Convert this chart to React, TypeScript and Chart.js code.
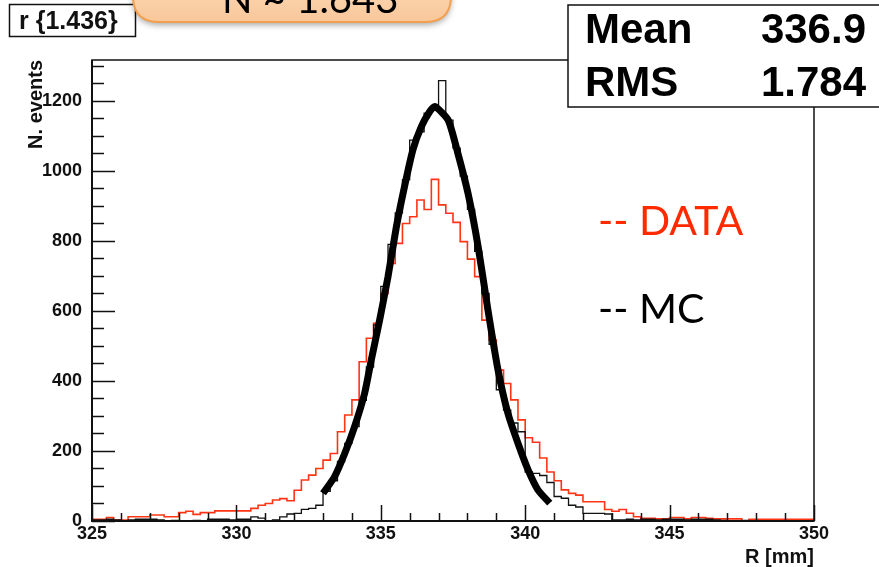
import React, { useEffect, useRef } from "react";
import { Chart, registerables } from "chart.js";
Chart.register(...registerables);

// Binning of the histograms (R in mm)
const BIN_LOW = 325;
const BIN_WIDTH = 0.25;

// DATA histogram (red), 100 bins from 325 to 350 mm
const dataCounts = [
  5, 5, 10, 3, 3, 12, 12, 12, 17, 17,
  12, 12, 24, 28, 19, 24, 24, 29, 29, 29,
  29, 29, 36, 45, 50, 60, 64, 58, 88, 117,
  131, 150, 174, 193, 255, 303, 346, 455, 522, 565,
  650, 736, 793, 850, 869, 917, 890, 976, 903, 879,
  853, 798, 748, 698, 574, 517, 431, 393, 346, 289,
  238, 225, 180, 140, 115, 89, 79, 74, 55, 55,
  55, 33, 28, 33, 22, 12, 8, 8, 6, 6,
  10, 10, 6, 10, 10, 8, 6, 6, 6, 6,
  0, 5, 5, 5, 5, 5, 5, 5, 5, 5,
];

// MC histogram (thin black), 100 bins
const mcCounts = [
  3, 3, 5, 3, 0, 3, 5, 5, 5, 3,
  0, 2, 0, 0, 2, 0, 5, 5, 5, 3,
  5, 5, 12, 8, 0, 3, 12, 20, 22, 33,
  36, 45, 85, 115, 170, 222, 270, 345, 440, 560,
  670, 790, 880, 975, 1088, 1112, 1165, 1184, 1258, 1145,
  1065, 985, 890, 770, 650, 505, 375, 317, 280, 255,
  140, 136, 130, 110, 70, 65, 45, 40, 22, 22,
  22, 20, 3, 3, 5, 3, 5, 5, 3, 5,
  5, 5, 3, 5, 5, 5, 3, 2, 0, 0,
  2, 0, 0, 0, 0, 0, 0, 0, 0, 0,
];

// Fitted curve (thick black), read point by point
const fitR = [333.0, 333.4, 333.75, 334.09, 334.44, 334.67, 334.96, 335.25, 335.54, 335.82, 336.11, 336.4, 336.69, 336.87, 337.33, 337.67, 338.02, 338.37, 338.71, 339.06, 339.4, 339.75, 340.1, 340.44, 340.85];
const fitN = [79, 127, 193, 269, 365, 460, 574, 698, 841, 955, 1060, 1126, 1169, 1184, 1146, 1050, 936, 784, 603, 431, 308, 222, 146, 89, 51];

const xTickValues = [325, 330, 335, 340, 345, 350];
const yTickValues = [0, 200, 400, 600, 800, 1000, 1200];
const X_MIN = 325, X_MAX = 350, Y_MAX = 1317;

const histTitle = "r {1.436}";
const statLabels = ["Mean", "RMS"];
const statValues = ["336.9", "1.784"];
const legendLabels = ["-- DATA", "-- MC"];
const legendColors = ["#ff2a00", "#000000"];
const bubbleText = "N ~ 1.643";
const xTitle = "R [mm]";
const yTitle = "N. events";

// Points at the low edge of each bin; last point closes the final bin
function toSteps(counts: number[]) {
  const pts = counts.map((c, i) => ({ x: BIN_LOW + i * BIN_WIDTH, y: c }));
  pts.push({ x: BIN_LOW + counts.length * BIN_WIDTH, y: counts[counts.length - 1] });
  return pts;
}

const SANS = "'Liberation Sans', Arial, Helvetica, sans-serif";

const decorations = {
  id: "rootDecorations",
  afterDraw(chart: any) {
    const ctx = chart.ctx as CanvasRenderingContext2D;
    const { left, right, top, bottom } = chart.chartArea;
    const xs = chart.scales.x;
    const ys = chart.scales.y;
    ctx.save();

    // frame
    ctx.strokeStyle = "#111";
    ctx.lineWidth = 1.5;
    ctx.strokeRect(left, top, right - left, bottom - top);
    ctx.lineWidth = 2;
    ctx.beginPath();
    ctx.moveTo(left, top);
    ctx.lineTo(left, bottom);
    ctx.lineTo(right, bottom);
    ctx.stroke();

    // inward ticks
    ctx.lineWidth = 1.5;
    ctx.beginPath();
    for (let v = X_MIN; v <= X_MAX; v += 1) {
      const px = Math.round(xs.getPixelForValue(v)) + 0.5;
      const len = v % 5 === 0 ? 16 : 8;
      ctx.moveTo(px, bottom);
      ctx.lineTo(px, bottom - len);
    }
    for (let v = 0; v <= Y_MAX; v += 50) {
      const py = Math.round(ys.getPixelForValue(v)) + 0.5;
      const len = v % 200 === 0 ? 23 : 12;
      ctx.moveTo(left, py);
      ctx.lineTo(left + len, py);
    }
    ctx.stroke();

    // axis titles
    ctx.fillStyle = "#111";
    ctx.font = `bold 20px ${SANS}`;
    ctx.textAlign = "right";
    ctx.textBaseline = "alphabetic";
    ctx.fillText(xTitle, right, 563);
    ctx.save();
    ctx.translate(42, top);
    ctx.rotate(-Math.PI / 2);
    ctx.font = `bold 20px ${SANS}`;
    ctx.textAlign = "right";
    ctx.fillText(yTitle, 0, 0);
    ctx.restore();

    // stats box
    ctx.fillStyle = "#fff";
    ctx.fillRect(568, 5, 330, 102);
    ctx.strokeStyle = "#111";
    ctx.lineWidth = 1.5;
    ctx.strokeRect(568, 5, 330, 102);
    ctx.fillStyle = "#000";
    ctx.font = `bold 42px ${SANS}`;
    ctx.textAlign = "left";
    ctx.fillText(statLabels[0], 585, 43);
    ctx.fillText(statLabels[1], 585, 96);
    ctx.textAlign = "right";
    ctx.fillText(statValues[0], 866, 43);
    ctx.fillText(statValues[1], 866, 96);

    // title box
    ctx.fillStyle = "#fff";
    ctx.fillRect(9, 4, 126, 33);
    ctx.strokeStyle = "#111";
    ctx.lineWidth = 1.5;
    ctx.strokeRect(9.5, 4.5, 126, 32);
    ctx.fillStyle = "#111";
    ctx.font = `bold 25px ${SANS}`;
    ctx.textAlign = "left";
    ctx.fillText(histTitle, 19, 29);

    // orange bubble
    ctx.save();
    ctx.shadowColor = "rgba(0,0,0,0.35)";
    ctx.shadowBlur = 6;
    ctx.shadowOffsetY = 3;
    const bx = 133, by = -45, bw = 318, bh = 67, r = 26;
    ctx.beginPath();
    ctx.moveTo(bx + r, by);
    ctx.lineTo(bx + bw - r, by);
    ctx.quadraticCurveTo(bx + bw, by, bx + bw, by + r);
    ctx.lineTo(bx + bw, by + bh - r);
    ctx.quadraticCurveTo(bx + bw, by + bh, bx + bw - r, by + bh);
    ctx.lineTo(bx + r, by + bh);
    ctx.quadraticCurveTo(bx, by + bh, bx, by + bh - r);
    ctx.lineTo(bx, by + r);
    ctx.quadraticCurveTo(bx, by, bx + r, by);
    ctx.closePath();
    const grad = ctx.createLinearGradient(0, by, 0, by + bh);
    grad.addColorStop(0, "#fde3c6");
    grad.addColorStop(1, "#f9c79a");
    ctx.fillStyle = grad;
    ctx.fill();
    ctx.restore();
    ctx.strokeStyle = "#f3a04e";
    ctx.lineWidth = 2;
    ctx.stroke();
    ctx.fillStyle = "#000";
    ctx.font = `40px Lato, 'Open Sans', sans-serif`;
    ctx.textAlign = "left";
    ctx.fillText(bubbleText, 222, 13);

    // legend texts
    ctx.font = `41px Lato, 'Open Sans', sans-serif`;
    ctx.textAlign = "left";
    ctx.fillStyle = legendColors[0];
    ctx.fillText(legendLabels[0], 598, 235);
    ctx.fillStyle = legendColors[1];
    ctx.fillText(legendLabels[1], 598, 323);

    ctx.restore();
  },
};

export default function App() {
  const ref = useRef<HTMLCanvasElement | null>(null);
  useEffect(() => {
    if (!ref.current) return;
    const chart = new Chart(ref.current, {
      type: "line",
      data: {
        datasets: [
          {
            label: "fit",
            data: fitR.map((r, i) => ({ x: r, y: fitN[i] })),
            borderColor: "#000",
            borderWidth: 7,
            pointRadius: 0,
            tension: 0.2,
            fill: false,
          },
          {
            label: "MC",
            data: toSteps(mcCounts),
            borderColor: "#111",
            borderWidth: 1.3,
            pointRadius: 0,
            stepped: "before",
            fill: false,
          },
          {
            label: "DATA",
            data: toSteps(dataCounts),
            borderColor: "#ff3414",
            borderWidth: 1.6,
            pointRadius: 0,
            stepped: "before",
            fill: false,
          },
        ],
      },
      options: {
        animation: false,
        responsive: false,
        devicePixelRatio: 1,
        layout: { padding: { top: 60, right: 65, left: 0, bottom: 0 } },
        plugins: { legend: { display: false }, tooltip: { enabled: false } },
        scales: {
          x: {
            type: "linear",
            min: X_MIN,
            max: X_MAX,
            grid: { display: false, drawTicks: false },
            border: { display: false },
            afterFit: (s: any) => { s.height = 46; },
            afterBuildTicks: (s: any) => { s.ticks = xTickValues.map((v) => ({ value: v })); },
            ticks: {
              padding: 2,
              color: "#111",
              font: { family: SANS, size: 18, weight: "bold" },
              maxRotation: 0,
              autoSkip: false,
              callback: (v: any) => String(v),
            },
          },
          y: {
            type: "linear",
            min: 0,
            max: Y_MAX,
            grid: { display: false, drawTicks: false },
            border: { display: false },
            afterFit: (s: any) => { s.width = 92; },
            afterBuildTicks: (s: any) => { s.ticks = yTickValues.map((v) => ({ value: v })); },
            ticks: {
              padding: 10,
              color: "#111",
              font: { family: SANS, size: 18, weight: "bold" },
              autoSkip: false,
              callback: (v: any) => String(v),
            },
          },
        },
      },
      plugins: [decorations],
    } as any);
    return () => chart.destroy();
  }, []);
  return (
    <div style={{ position: "absolute", left: 0, top: 0, width: 879, height: 567, background: "#fff" }}>
      <canvas ref={ref} width={879} height={567} style={{ display: "block" }} />
    </div>
  );
}
